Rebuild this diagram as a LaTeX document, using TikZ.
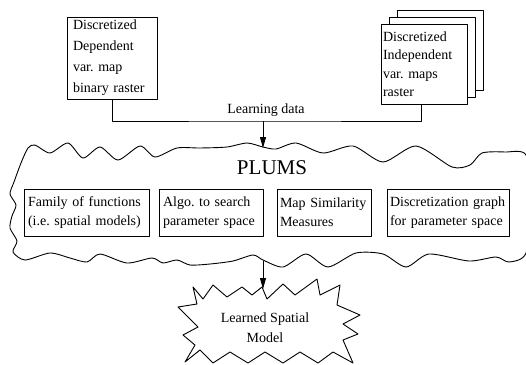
\documentclass[tikz,border=0pt]{standalone}
\usepackage{fontspec}
\setmainfont{Liberation Serif}
\usetikzlibrary{shadows,arrows.meta}
\frenchspacing
\tikzset{
  mapbox/.style={draw, fill=white, align=left, inner ysep=0pt, font=\fontsize{14}{21}\selectfont},
  partbox/.style={draw, fill=white, align=left, inner xsep=4pt, inner ysep=0pt, minimum height=47pt, font=\fontsize{14}{19}\selectfont},
}
\begin{document}
\begin{tikzpicture}[x=1pt, y=-1pt, line width=0.9pt, line join=round, >={Triangle[length=11pt,width=6pt]}, font=\fontsize{14}{20}\selectfont]
  \useasboundingbox (0,0) rectangle (526,364);
  % input maps
  \node[mapbox, text width=78pt, inner xsep=6pt, minimum height=82pt] (dep) at (112,58)
    {Discretized\\Dependent\\var. map\\binary raster};
  \node[mapbox, text width=82pt, inner xsep=2pt, minimum height=80pt, font=\fontsize{14}{18.5}\selectfont,
    double copy shadow={shadow xshift=8pt, shadow yshift=7pt}] (indep) at (424,64)
    {Discretized\\Independent\\var. maps\\raster};
  \node (learn) at (266,110) {Learning data};
  \coordinate (split) at (263,121);
  \draw (dep.south) |- (split) -| ([xshift=-3pt]indep.south);
  % the PLUMS cloud
  \draw plot[smooth cycle, tension=0.45] coordinates {
    (28,148) (35,145) (50,153) (68,143) (83,158) (100,147) (118,160) (140,146) (155,157)
    (177,148) (200,148) (227,147) (247,143) (263,147) (276,149) (296,143)
    (323,153) (353,146) (383,162) (416,146) (452,167) (470,165) (482,153) (505,152) (526,155)
    (530,200)
    (526,253) (509,262) (496,257) (469,261) (429,254) (406,267) (383,254) (356,253)
    (328,267) (306,254) (283,267) (263,260) (253,255) (233,261) (210,264)
    (190,265) (177,260) (163,263) (152,258) (127,263) (100,254) (87,262)
    (70,258) (50,253) (25,260)
    (13,252) (17,241) (10,228) (12,216) (16,205) (10,194)
    (14,182) (21,163)};
  \coordinate (cloudtop) at (263,148);
  \coordinate (cloudbot) at (263,261);
  \draw[->] (split) -- (cloudtop);
  \node (plums) at (272,168) {\fontsize{21}{25}\selectfont PLUMS};
  \node[partbox, text width=117pt] (fam) at (86.5,212.5) {Family of functions\\(i.e. spatial models)};
  \node[partbox, text width=96pt] (algo) at (211,212.5) {Algo. to search\\parameter space};
  \node[partbox, text width=88pt, inner xsep=3pt] (sim) at (324,212.5) {Map Similarity\\Measures};
  \node[partbox, text width=116pt, inner xsep=3pt] (disc) at (448,212.5) {Discretization graph\\for parameter space};
  % learned model star
  \draw (193,287) -- (203,299) -- (213,285) -- (227,297) -- (242,287) -- (252,295) -- (262,287)
    -- (267,299) -- (283,284) -- (295,295) -- (317,279) -- (320,295) -- (340,285) -- (337,305)
    -- (360,315) -- (343,324) -- (358,334) -- (343,340) -- (353,363) -- (333,352) -- (318,363)
    -- (300,352) -- (283,363) -- (265,352) -- (248,363) -- (230,352) -- (213,363) -- (200,350)
    -- (185,362) -- (195,345) -- (183,335) -- (198,327) -- (178,307) -- (197,304) -- cycle;
  \coordinate (startop) at (263,289);
  \node[align=center] (model) at (265,328) {Learned Spatial\\Model};
  \draw[->] (cloudbot) -- (startop);
\end{tikzpicture}
\end{document}
